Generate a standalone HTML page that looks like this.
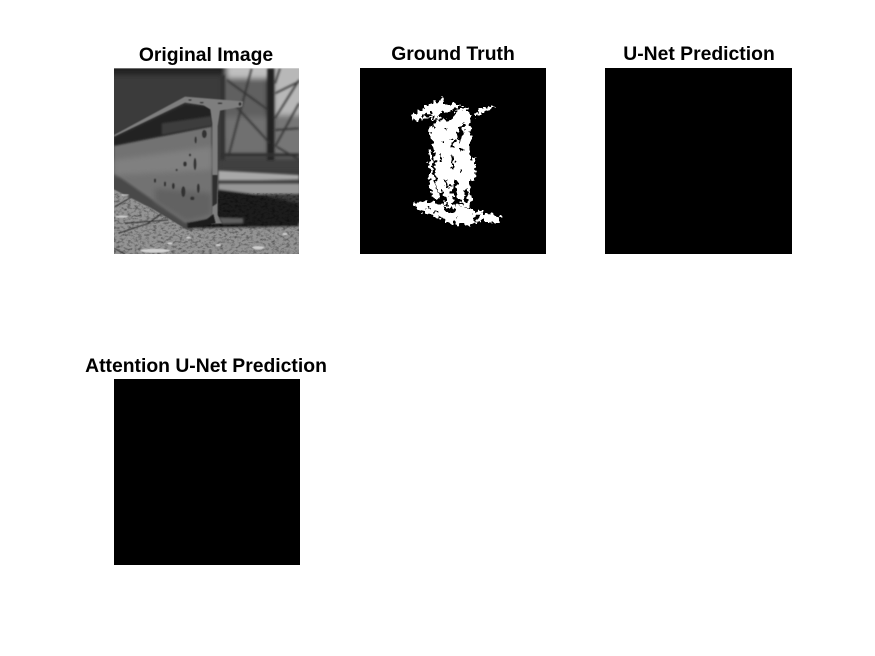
<!DOCTYPE html>
<html lang="en">
<head>
<meta charset="utf-8">
<title>Segmentation comparison</title>
<style>
html,body{margin:0;padding:0;background:#fff;}
svg{display:block;}
text{font-family:"Liberation Sans",Arial,sans-serif;font-weight:bold;font-size:19.35px;fill:#000;text-anchor:middle;}
</style>
</head>
<body>
<svg width="875" height="656" viewBox="0 0 875 656" xmlns="http://www.w3.org/2000/svg">
<defs>
<clipPath id="photo-clip"><rect x="27" y="25" width="555" height="557"/></clipPath>
<filter id="b1" x="-10%" y="-10%" width="120%" height="120%"><feGaussianBlur stdDeviation="1.5"/></filter>
<filter id="b2" x="-10%" y="-10%" width="120%" height="120%"><feGaussianBlur stdDeviation="3"/></filter>
<filter id="b6" x="-20%" y="-20%" width="140%" height="140%"><feGaussianBlur stdDeviation="8"/></filter>
<filter id="grain" x="0" y="0" width="100%" height="100%">
<feTurbulence type="fractalNoise" baseFrequency="0.09 0.14" numOctaves="3" seed="4"/>
<feColorMatrix type="matrix" values="0 0 0 0 0  0 0 0 0 0  0 0 0 0 0  2.4 0 0 0 -1.05"/>
</filter>
<filter id="rough" x="-10%" y="-10%" width="120%" height="120%" color-interpolation-filters="sRGB">
<feTurbulence type="fractalNoise" baseFrequency="0.08" numOctaves="2" seed="7" result="n"/>
<feDisplacementMap in="SourceGraphic" in2="n" scale="30" xChannelSelector="R" yChannelSelector="G"/>
</filter>
</defs>
<rect width="875" height="656" fill="#fff"/>

<g>
<text x="206" y="61">Original Image</text>
<g transform="translate(105 60) scale(0.33333)" clip-path="url(#photo-clip)">
<rect x="27" y="25" width="555" height="557" fill="#3c3c3c"/>
<g filter="url(#b6)">
<rect x="0" y="0" width="610" height="45" fill="#202020"/>
<rect x="0" y="45" width="355" height="190" fill="#3a3a3a"/>
<rect x="365" y="0" width="130" height="55" fill="#c0c0c0"/>
<rect x="355" y="55" width="130" height="120" fill="#606060"/>
<rect x="505" y="0" width="110" height="170" fill="#b8b8b8"/>
<rect x="355" y="170" width="135" height="115" fill="#707070"/>
<rect x="505" y="165" width="110" height="130" fill="#767676"/>
<rect x="340" y="290" width="270" height="40" fill="#404040"/>
</g>
<g filter="url(#b2)" stroke="#303030" fill="none">
<path d="M497 25V300" stroke-width="20" stroke="#222222"/>
<path d="M352 45V300" stroke-width="14"/>
<path d="M370 290L440 25M385 130L495 250M510 175L582 60M510 100L582 65M510 210L582 205M515 260L582 300M365 60L490 150M525 25L510 70M510 260L582 130" stroke-width="5"/>
<path d="M350 285H582" stroke-width="10"/>
</g>
<g filter="url(#b2)">
<path d="M340 332L582 345V358L340 362Z" fill="#a8a8a8"/>
<rect x="340" y="360" width="245" height="12" fill="#454545"/>
<rect x="340" y="372" width="245" height="30" fill="#969696"/>
<path d="M20 340L250 510L340 480L590 490V590H20Z" fill="#949494"/>
<path d="M340 388L470 405L582 432V500L250 506L330 450Z" fill="#1c1c1c"/>
</g>
<rect x="27" y="400" width="555" height="182" filter="url(#grain)" opacity="0.4"/>
<g fill="none" stroke="#2e2e2e" stroke-width="3" filter="url(#b1)">
<path d="M30 440L90 405M60 490L190 480M40 520L130 490L170 460M27 565L60 582"/>
</g>
<g>
<path d="M20 335L245 485L245 508L140 445L20 385Z" fill="#4a4a4a" filter="url(#b1)"/>
<path d="M27 255L320 198L322 470L305 478L240 488L27 340Z" fill="#727272" filter="url(#b2)"/>
<path d="M27 300L320 260V330L27 345Z" fill="#808080" filter="url(#b6)"/>
<path d="M150 385L320 400L320 465L245 485L150 425Z" fill="#626262" filter="url(#b6)"/>
<path d="M27 232L240 132L318 140L322 197L27 257Z" fill="#202020" filter="url(#b2)"/>
<path d="M170 190L320 168L322 197L170 225Z" fill="#3c3c3c" filter="url(#b2)"/>
<path d="M27 225L240 110L414 124L412 140L345 152L338 198L338 465L352 490L318 492L322 450L322 190L316 148L296 136L240 128L27 230Z" fill="#7e7e7e" filter="url(#b1)"/>
<path d="M248 490L305 480L325 462L332 490L250 503Z" fill="#1c1c1c" filter="url(#b1)"/>
<path d="M322 345L338 345L336 430L322 440Z" fill="#2e2e2e" filter="url(#b1)"/>
<path d="M340 472L415 474L415 490L352 492Z" fill="#5e5e5e" filter="url(#b2)"/>
<g fill="#333333" filter="url(#b1)">
<ellipse cx="272" cy="240" rx="3" ry="10"/><ellipse cx="298" cy="222" rx="7" ry="12"/><ellipse cx="270" cy="312" rx="4" ry="18"/>
<ellipse cx="240" cy="312" rx="5" ry="7"/><ellipse cx="280" cy="385" rx="4" ry="14"/><ellipse cx="235" cy="395" rx="6" ry="16"/>
<ellipse cx="205" cy="378" rx="4" ry="9"/><ellipse cx="255" cy="285" rx="3" ry="4"/><ellipse cx="180" cy="372" rx="3" ry="7"/>
<ellipse cx="262" cy="415" rx="6" ry="5"/><ellipse cx="215" cy="330" rx="3" ry="3"/><ellipse cx="150" cy="362" rx="3" ry="6"/>
<ellipse cx="290" cy="128" rx="6" ry="2"/><ellipse cx="345" cy="130" rx="7" ry="2"/><ellipse cx="255" cy="120" rx="5" ry="2"/><ellipse cx="405" cy="132" rx="4" ry="5"/>
</g>
</g>
<g fill="#d0d0d0" filter="url(#b1)">
<ellipse cx="195" cy="550" rx="8" ry="3"/><ellipse cx="250" cy="533" rx="7" ry="3"/><ellipse cx="460" cy="563" rx="18" ry="5"/><ellipse cx="540" cy="522" rx="8" ry="3"/>
<ellipse cx="150" cy="572" rx="45" ry="6"/><ellipse cx="50" cy="470" rx="20" ry="3"/><ellipse cx="340" cy="555" rx="8" ry="3"/><ellipse cx="60" cy="405" rx="12" ry="2"/>
</g>
</g>
</g>

<g>
<text x="453" y="60">Ground Truth</text>
<rect x="360" y="68" width="186" height="186" fill="#000"/>
<g transform="translate(390 85) scale(0.33333)" shape-rendering="crispEdges">
<g filter="url(#rough)">
<g fill="#fff">
<path d="M70 90L85 78L125 55L160 38L162 55L220 60L165 80L150 100L70 104Z"/>
<path d="M252 90L275 66L322 66L290 80L255 94Z"/>
<path d="M150 100L180 80L228 66L242 85L240 300L244 362L205 378L160 352L140 300L132 200L130 130Z"/>
<path d="M238 222L254 222L256 288L241 290Z"/>
<path d="M70 352L110 350L170 362L240 372L280 382L332 396V416L270 408L240 422L180 414L150 399L100 384L76 370Z"/>
<path d="M118 128L130 116L136 168L122 164Z"/>
<path d="M116 198L126 198L128 260L135 300L150 345L132 347L120 310Z"/>
</g>
<g fill="#000">
<path d="M150 85L200 78L190 100L165 108L150 100Z"/>
<path d="M205 135L225 110L222 150L208 172L202 160Z"/>
<path d="M184 160L198 165L192 190L186 185Z"/>
<path d="M150 205L156 205L155 235L150 232Z"/>
<path d="M182 212L192 215L190 252L184 250Z"/>
<path d="M162 285L172 285L170 302L162 300Z"/>
<path d="M194 285L204 285L200 335L222 362L192 358L186 325Z"/>
<path d="M220 325L232 312L232 352L222 350Z"/>
<path d="M150 322L172 332L168 348L155 345Z"/>
<path d="M160 365L198 375L185 384L165 380Z"/>
<path d="M248 388L268 390L262 408L250 405Z"/>
<path d="M90 90L130 85L125 95L90 97Z"/>
<circle cx="170" cy="130" r="4"/><circle cx="215" cy="195" r="4"/><circle cx="160" cy="170" r="4"/><circle cx="210" cy="260" r="5"/><circle cx="178" cy="305" r="4"/><circle cx="140" cy="380" r="4"/><circle cx="200" cy="398" r="4"/><circle cx="120" cy="368" r="4"/>
</g>
</g>
</g>
</g>

<g>
<text x="699" y="60">U-Net Prediction</text>
<rect x="605" y="68" width="187" height="186" fill="#000"/>
</g>

<g>
<text x="206" y="372">Attention U-Net Prediction</text>
<rect x="114" y="379" width="186" height="186" fill="#000"/>
</g>
</svg>
</body>
</html>
